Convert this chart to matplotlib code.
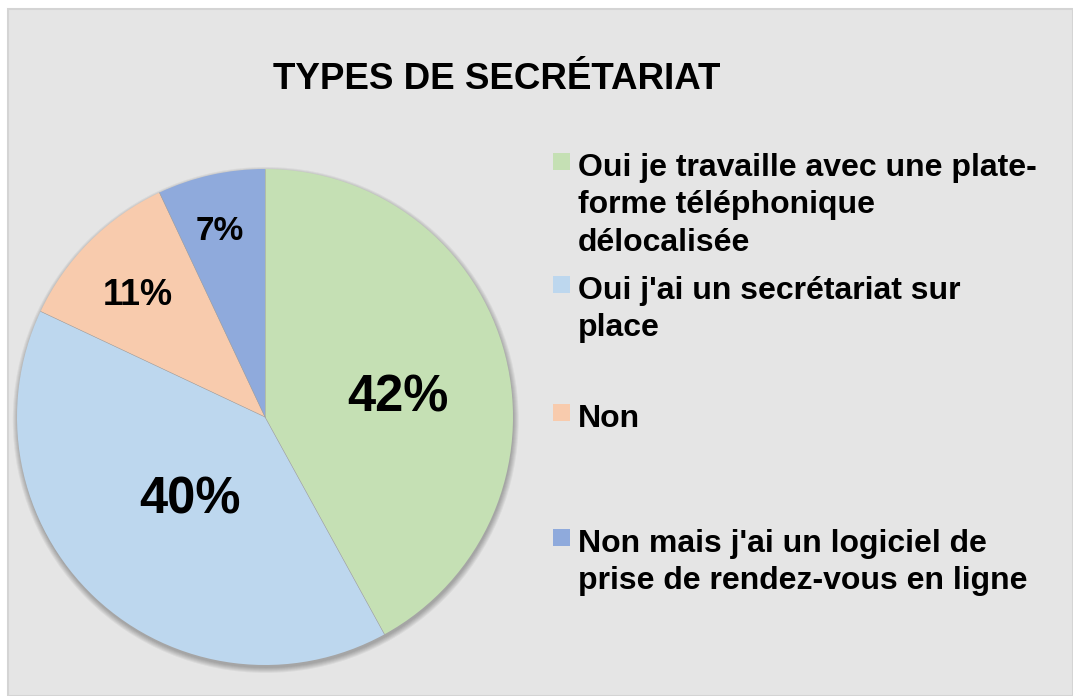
import numpy as np
import matplotlib
matplotlib.use("Agg")
import matplotlib.pyplot as plt
import matplotlib.patches as mpatches

# data
labels = ["Oui je travaille avec une plate-\nforme téléphonique\ndélocalisée",
          "Oui j'ai un secrétariat sur\nplace",
          "Non",
          "Non mais j'ai un logiciel de\nprise de rendez-vous en ligne"]
values = [42, 40, 11, 7]
colors = ["#C5E0B4", "#BDD7EE", "#F8CBAD", "#8FAADC"]
pct_size = [36.5, 36.5, 26, 24]
pct_dist = [0.545, 0.437, 0.718, 0.783]
pct_turn = [-4.2, -0.7, 0.5, 0.8]

plt.rcParams['font.family'] = ['Liberation Sans', 'DejaVu Sans']

W, H = 1073, 696
fig = plt.figure(figsize=(W / 100, H / 100), dpi=100)
fig.patch.set_facecolor("white")

# grey chart area
bg = mpatches.Rectangle((8 / W, 0), 1 - 8 / W, 1 - 9 / H, transform=fig.transFigure,
                        facecolor="#E5E5E5", edgecolor="#D4D4D4", lw=1.5, zorder=-10)
fig.patches.append(bg)

# pie axes, center (265, 417) px, radius 248 px
R = 248
ax = fig.add_axes([(265 - R) / W, (H - 417 - R) / H, 2 * R / W, 2 * R / H])
ax.set_facecolor("none")

# soft shadow under the pie
for k in range(6):
    ax.add_patch(mpatches.Circle((0.003, -0.012), 1.0 + 0.004 * k, facecolor="black",
                                 alpha=0.05, edgecolor="none", zorder=0, clip_on=False))

wedges, _ = ax.pie(values, colors=colors, startangle=90, counterclock=False,
                   radius=1.0, wedgeprops=dict(edgecolor="none", linewidth=0))
for w in wedges:
    w.set_zorder(2)
    w.set_clip_on(False)

# thin separators between slices
for w in wedges:
    a = np.deg2rad(w.theta1)
    ax.plot([0, np.cos(a)], [0, np.sin(a)], color="#a0a0a0", lw=0.4, zorder=2.5,
            clip_on=False)

for w, v, s, d, t in zip(wedges, values, pct_size, pct_dist, pct_turn):
    mid = np.deg2rad((w.theta1 + w.theta2) / 2 + t)
    cap = 0.716 * s * 100 / 72 / 2 / R
    ax.text(d * np.cos(mid), d * np.sin(mid) - cap, f"{v}%", ha="center", va="baseline",
            fontsize=s, fontweight="bold", color="black", zorder=3)

ax.set_xlim(-1, 1)
ax.set_ylim(-1, 1)
ax.set_aspect("equal")
ax.axis("off")

# title
fig.text(497 / W, 1 - 89 / H, "TYPES DE SECRÉTARIAT", ha="center", va="baseline",
         fontsize=26.5, fontweight="bold")

# legend, entries spread down the right side
baselines = [176, 299, 427, 552]
line_gap = 37.5
for lab, c, yb in zip(labels, colors, baselines):
    fig.patches.append(mpatches.Rectangle((553 / W, 1 - (yb - 6) / H), 17 / W, 17 / H,
                                          transform=fig.transFigure, facecolor=c,
                                          edgecolor="none"))
    for i, line in enumerate(lab.split("\n")):
        fig.text(578 / W, 1 - (yb + i * line_gap) / H, line, ha="left", va="baseline",
                 fontsize=23, fontweight="bold")

fig.savefig("out.png", dpi=100, facecolor=fig.get_facecolor())
